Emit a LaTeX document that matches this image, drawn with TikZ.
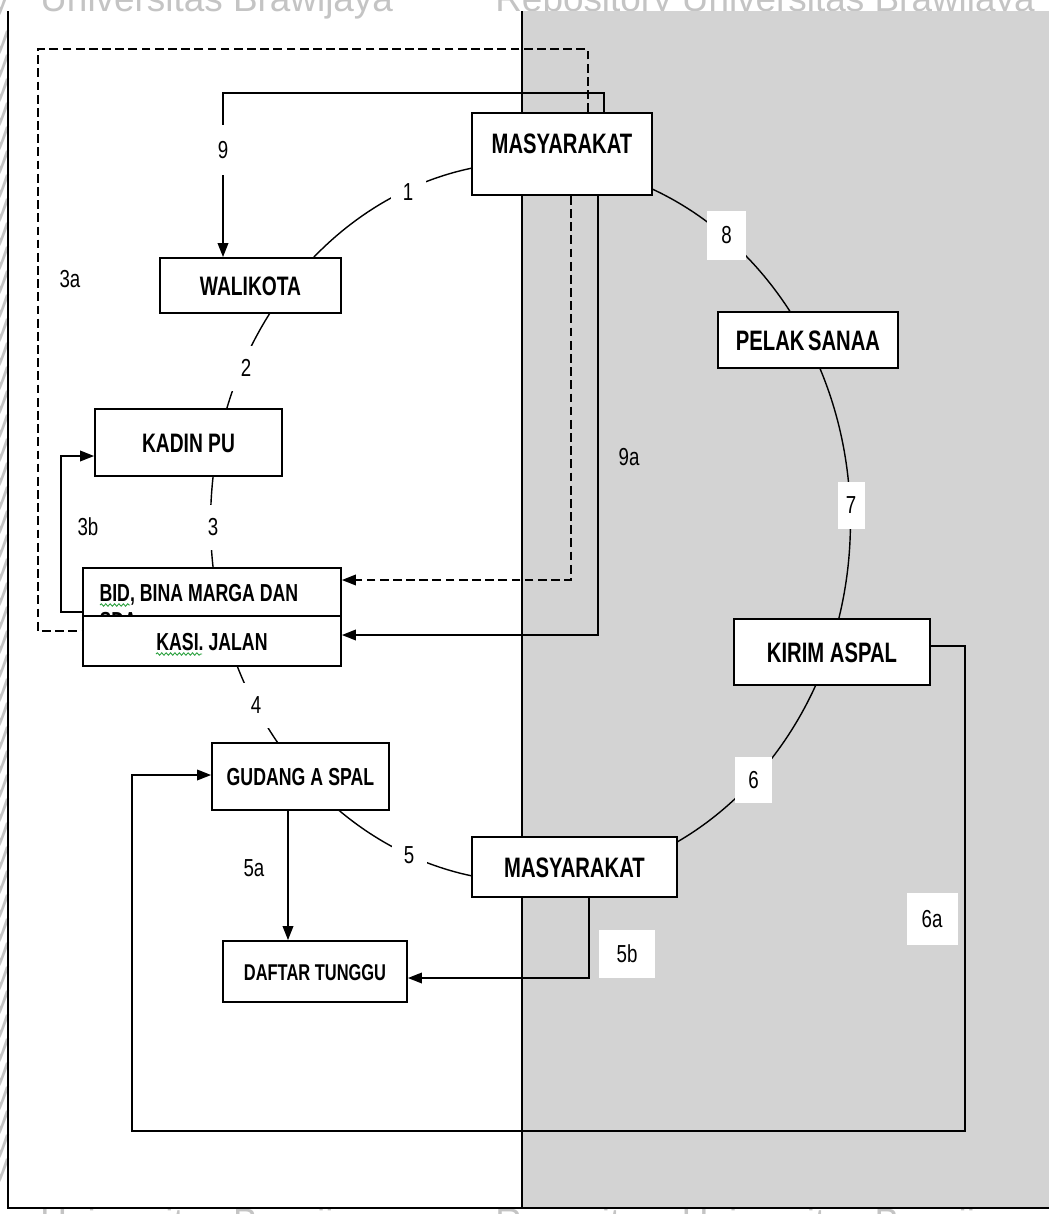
\documentclass[tikz,border=0pt]{standalone}
\usepackage{fontspec}
\setmainfont{Liberation Sans}
\newfontfamily\boxfont[FakeStretch=0.72]{Liberation Sans}
\newfontfamily\numfont[FakeStretch=0.76]{Liberation Sans}
\usetikzlibrary{arrows.meta, decorations.pathmorphing}
\definecolor{panelgray}{RGB}{211, 211, 211}
\definecolor{markgray}{RGB}{196, 196, 196}
\definecolor{spellgreen}{RGB}{40, 160, 60}

\begin{document}
\begin{tikzpicture}[x=0.02cm, y=-0.02cm,
    box/.style={draw, fill=white, line width=1pt, inner sep=0pt, text height=0.4cm, text depth=0pt,
      font=\boxfont\bfseries\fontsize{16}{18}\selectfont},
    boxsm/.style={box, text height=0.36cm, font=\boxfont\bfseries\fontsize{14}{17}\selectfont},
    boxmid/.style={box, text height=0.38cm, font=\boxfont\bfseries\fontsize{15.2}{18}\selectfont},
    num/.style={inner sep=0pt, font=\numfont\fontsize{14}{16}\selectfont},
    gap/.style={num, fill=white, minimum width=0.7cm, minimum height=0.9cm},
    line/.style={line width=1pt},
    arr/.style={line, -{Triangle[length=8pt, width=6pt]}},
    dashln/.style={line, dash pattern=on 5pt off 2.5pt},
    ring/.style={line width=0.8pt},
    wmark/.style={inner sep=0pt, text=markgray, font=\fontsize{21}{23}\selectfont},
    spell/.style={spellgreen, line width=0.5pt, decorate,
      decoration={snake, amplitude=0.7pt, segment length=2.5pt}}]
  \useasboundingbox (0,0) rectangle (1049,1214);
  \fill[white] (0,0) rectangle (1049,1214);

  % watermark
  \node[wmark, anchor=base west] (wmA) at (40,11) {Universitas Brawijaya};
  \node[wmark, anchor=base west] (wmB) at (495,11) {Repository Universitas Brawijaya};
  \node[wmark, anchor=base east] (wmC) at (10,11) {y};
  \node[wmark, anchor=base west] (wmD) at (40,1234) {Universitas Brawijaya};
  \node[wmark, anchor=base west] (wmE) at (495,1234) {Repository Universitas Brawijaya};
  \foreach \yy in {50,74,...,1190}
    \node[wmark, anchor=base east] (wy\yy) at (10,\yy) {y};

  % panel and frame
  \fill[panelgray] (522,11) rectangle (1049,1208);
  \draw[line] (8,11) -- (8,1208) -- (1049,1208);
  \draw[line] (522,11) -- (522,1208);

  % cycle 1-8
  \draw[ring] (530.5,522) ellipse [x radius=6.4cm, y radius=7.2cm];

  % boxes
  \node[box, minimum width=3.6cm, minimum height=1.64cm, text depth=0.44cm] (masy1) at (562,154) {MASYARAKAT};
  \node[boxmid, minimum width=3.62cm, minimum height=1.1cm] (wali) at (250.5,285.5) {WALIKOTA};
  \node[boxmid, minimum width=3.74cm, minimum height=1.34cm] (kadin) at (188.5,442.5) {KADIN PU};
  \node[boxsm, minimum width=5.16cm, minimum height=0.96cm] (bid) at (212,592)
    {\makebox[4.5cm][l]{\begin{tabular}[t]{@{}l@{}}BID, BINA MARGA DAN\\[-1pt]SDA\end{tabular}}};
  \node[boxsm, minimum width=5.16cm, minimum height=1cm] (kasi) at (212,641) {KASI. JALAN};
  \node[box, minimum width=3.6cm, minimum height=1.12cm] (pelak) at (808,340) {PELAK\kern2pt SANAA};
  \node[box, minimum width=3.92cm, minimum height=1.32cm] (kirim) at (832,652) {KIRIM ASPAL};
  \node[boxsm, minimum width=3.54cm, minimum height=1.34cm] (gudang) at (300.5,776.5) {GUDANG A\kern3pt SPAL};
  \node[box, minimum width=4.1cm, minimum height=1.2cm] (masy2) at (574.5,867) {MASYARAKAT};
  \node[boxsm, minimum width=3.68cm, minimum height=1.22cm, text height=0.34cm,
    font=\boxfont\bfseries\fontsize{13}{15}\selectfont] (daftar) at (315,971.5) {DAFTAR TUNGGU};

  % spelling marks
  \draw[spell] (100,605) -- (130,605);
  \draw[spell] (156,654) -- (202,654);

  % step numbers on the cycle
  \node[gap] (n1) at (408,192) {1};
  \node[gap] (n2) at (246,368) {2};
  \node[gap] (n3) at (213,527) {3};
  \node[gap] (n4) at (256,705) {4};
  \node[gap] (n5) at (409,855) {5};
  \node[gap, minimum width=0.74cm, minimum height=0.92cm] (n6) at (753.5,780) {6};
  \node[gap, minimum width=0.54cm, minimum height=0.94cm] (n7) at (851,505.5) {7};
  \node[gap, minimum width=0.78cm, minimum height=0.98cm] (n8) at (726.5,235.5) {8};

  % side flows
  \draw[arr] (masy1.north -| 604,0) |- (223,93) -- node[num, fill=white, pos=0.35,
    minimum width=0.6cm, minimum height=1cm] (l9) {9} (wali.north -| 223,0);
  \draw[dashln] (masy1.north -| 588,0) |- (38,49) |- (kasi.west |- 0,631);
  \draw[dashln, arr] (masy1.south -| 571,0) |- (bid.east |- 0,580);
  \draw[arr] (masy1.south -| 598,0) |- (kasi.east |- 0,635);
  \draw[arr] (bid.west |- 0,612) -| (61,456) -- (kadin.west |- 0,456);
  \draw[arr] (gudang.south -| 288,0) -- (daftar.north -| 288,0);
  \draw[arr] (masy2.south -| 589,0) |- (daftar.east |- 0,978);
  \draw[arr] (kirim.east |- 0,646) -| (965,1131) -| (132,775) -- (gudang.west |- 0,775);

  % flow labels
  \node[num] (l3a) at (70,279) {3a};
  \node[num] (l3b) at (88,527) {3b};
  \node[num] (l9a) at (629,457) {9a};
  \node[num] (l5a) at (254,868) {5a};
  \node[num, fill=white, minimum width=1.12cm, minimum height=0.96cm] (l5b) at (627,954) {5b};
  \node[num, fill=white, minimum width=1.02cm, minimum height=1.04cm] (l6a) at (932,919) {6a};
\end{tikzpicture}
\end{document}
